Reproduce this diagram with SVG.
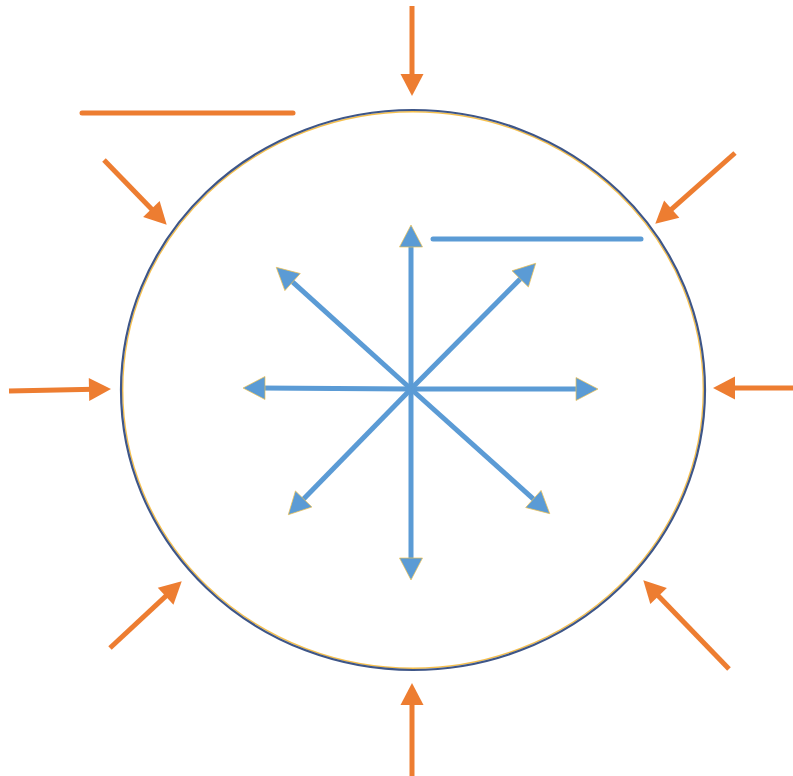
<svg xmlns="http://www.w3.org/2000/svg" width="793" height="776" viewBox="0 0 793 776">
<defs>
<style>
.or{stroke:#ED7D31;stroke-width:5;fill:none}
.bl{stroke:#5B9BD5;stroke-width:5;fill:none}
.ho{fill:#ED7D31}
.hb{fill:#5B9BD5;stroke:#F2C14E;stroke-width:0.7}
</style>
<path id="head" d="M1,0 L-21,-11.5 L-21,11.5 Z"/>
</defs>
<rect width="793" height="776" fill="#fff"/>
<g id="circle">
<ellipse cx="413" cy="390" rx="290.3" ry="278.3" fill="none" stroke="#F5B52E" stroke-width="1.4" opacity="0.85"/>
<ellipse cx="413" cy="390" rx="292" ry="280" fill="none" stroke="#3E5688" stroke-width="2.2"/>
</g>
<g id="lines">
<line x1="82" y1="113" x2="293" y2="113" stroke="#ED7D31" stroke-width="5" stroke-linecap="round"/>
<line x1="433" y1="239" x2="641" y2="239" stroke="#5B9BD5" stroke-width="5" stroke-linecap="round"/>
</g>
<g id="connectors">
<g id="inward">
<line class="or" x1="412" y1="6" x2="412" y2="79"/>
<use href="#head" class="ho" transform="translate(412,95) rotate(90)"/>
<line class="or" x1="104" y1="160" x2="154.9" y2="212.5"/>
<use href="#head" class="ho" transform="translate(166,224) rotate(45.9)"/>
<line class="or" x1="735" y1="153" x2="668" y2="212.4"/>
<use href="#head" class="ho" transform="translate(656,223) rotate(138.5)"/>
<line class="or" x1="9" y1="391" x2="94" y2="389.3"/>
<use href="#head" class="ho" transform="translate(110,389) rotate(-1.1)"/>
<line class="or" x1="793" y1="388" x2="730" y2="388"/>
<use href="#head" class="ho" transform="translate(714,388) rotate(180)"/>
<line class="or" x1="110" y1="648" x2="169.3" y2="592.9"/>
<use href="#head" class="ho" transform="translate(181,582) rotate(-42.9)"/>
<line class="or" x1="729" y1="669" x2="655.1" y2="592.5"/>
<use href="#head" class="ho" transform="translate(644,581) rotate(-134)"/>
<line class="or" x1="412" y1="776" x2="412" y2="700"/>
<use href="#head" class="ho" transform="translate(412,684) rotate(-90)"/>
</g>
<g id="outward">
<line class="bl" x1="411" y1="389" x2="411" y2="242"/>
<use href="#head" class="hb" transform="translate(411,226) rotate(-90)"/>
<line class="bl" x1="411" y1="389" x2="288.9" y2="278.7"/>
<use href="#head" class="hb" transform="translate(277,268) rotate(-137.9)"/>
<line class="bl" x1="411" y1="389" x2="260" y2="388"/>
<use href="#head" class="hb" transform="translate(244,388) rotate(180)"/>
<line class="bl" x1="411" y1="389" x2="523.7" y2="275.4"/>
<use href="#head" class="hb" transform="translate(535,264) rotate(-45.2)"/>
<line class="bl" x1="411" y1="389" x2="581" y2="389"/>
<use href="#head" class="hb" transform="translate(597,389) rotate(0)"/>
<line class="bl" x1="411" y1="389" x2="537.1" y2="502.3"/>
<use href="#head" class="hb" transform="translate(549,513) rotate(41.9)"/>
<line class="bl" x1="411" y1="389" x2="411" y2="563"/>
<use href="#head" class="hb" transform="translate(411,579) rotate(90)"/>
<line class="bl" x1="411" y1="389" x2="300.2" y2="502.5"/>
<use href="#head" class="hb" transform="translate(289,514) rotate(134.3)"/>
</g>
</g>
</svg>
